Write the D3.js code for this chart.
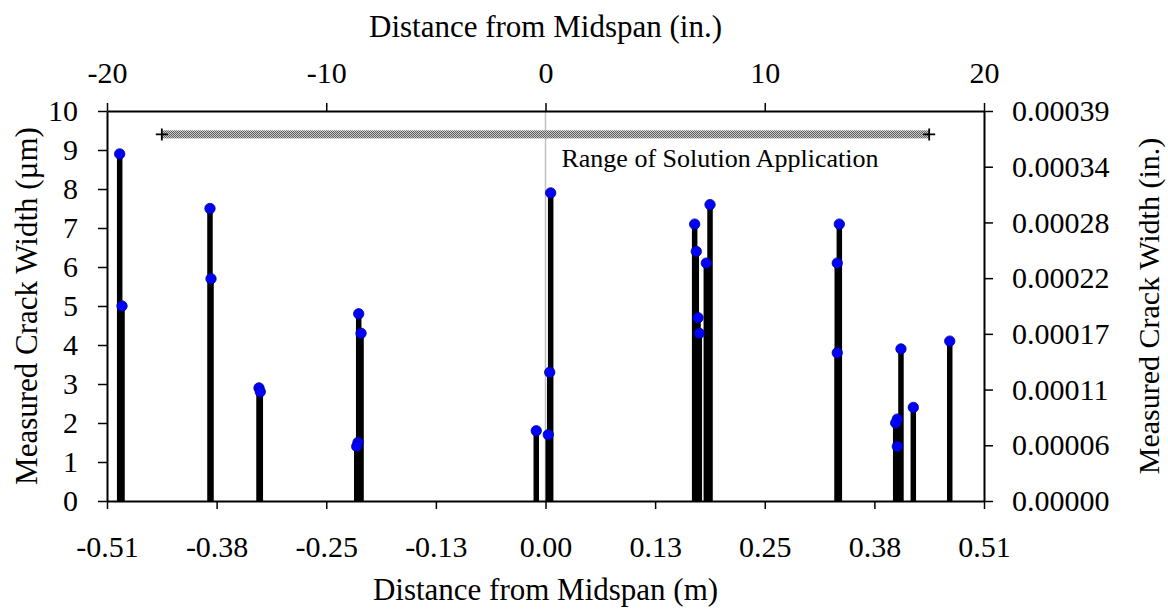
<!DOCTYPE html>
<html>
<head>
<meta charset="utf-8">
<script src="https://cdn.jsdelivr.net/npm/d3@7"></script>
<style>
  html, body { margin: 0; padding: 0; background: #fff; }
  svg text { font-family: "Liberation Serif", "Times New Roman", serif; fill: #000; }
</style>
</head>
<body>
<svg id="chart" width="1168" height="611"></svg>
<script>
// crack locations (m from midspan) and measured widths (um)
const crackX = [-0.4933, -0.4906, -0.3887, -0.3875, -0.3319, -0.3304,
  -0.2164, -0.2137, -0.2172, -0.2187, -0.0107, 0.0060, 0.0049, 0.0032,
  0.1728, 0.1747, 0.1767, 0.1782, 0.1906, 0.1863, 0.3404, 0.3380, 0.3380,
  0.4118, 0.4076, 0.4057, 0.4076, 0.4261, 0.4683];
const crackW = [8.9, 5.0, 7.5, 5.7, 2.9, 2.8,
  4.8, 4.3, 1.5, 1.4, 1.8, 7.9, 3.3, 1.7,
  7.1, 6.4, 4.7, 4.3, 7.6, 6.1, 7.1, 6.1, 3.8,
  3.9, 2.1, 2.0, 1.4, 2.4, 4.1];

// range of solution application (in.) and its height (um)
const rangeIn = [-17.5, 17.5];
const rangeY = 9.4;
const rangeLabel = "Range of Solution Application";

// tick values
const mTicks = [-0.508, -0.381, -0.254, -0.127, 0, 0.127, 0.254, 0.381, 0.508];
const inTicks = [-20, -10, 0, 10, 20];
const umTicks = [0, 1, 2, 3, 4, 5, 6, 7, 8, 9, 10];
const inWTicks = [0, 1, 2, 3, 4, 5, 6, 7].map(k => k * 0.0003937 / 7);

const width = 1168, height = 611;
const pLeft = 107, pRight = 984, pTop = 111, pBottom = 501;

const svg = d3.select("#chart");

const x = d3.scaleLinear().domain([-0.508, 0.508]).range([pLeft, pRight]);
const xIn = d3.scaleLinear().domain([-20, 20]).range([pLeft, pRight]);
const y = d3.scaleLinear().domain([0, 10]).range([pBottom, pTop]);
const yIn = d3.scaleLinear().domain([0, 0.0003937]).range([pBottom, pTop]);

// hatched fill for the range bar
const pat = svg.append("defs").append("pattern")
  .attr("id", "hatch")
  .attr("width", 2).attr("height", 2)
  .attr("patternUnits", "userSpaceOnUse");
pat.append("rect").attr("width", 2).attr("height", 2).attr("fill", "#c8c8c8");
pat.append("rect").attr("width", 1).attr("height", 1).attr("fill", "#606060");
pat.append("rect").attr("x", 1).attr("y", 1).attr("width", 1).attr("height", 1).attr("fill", "#606060");

// vertical line at midspan
svg.append("line")
  .attr("x1", x(0)).attr("x2", x(0))
  .attr("y1", pTop).attr("y2", pBottom)
  .attr("stroke", "#c0c0c0")
  .attr("stroke-width", 1.5);

// axes
function styleAxis(g) {
  g.select(".domain").attr("stroke", "#000").attr("stroke-width", 2);
  g.selectAll(".tick line").attr("stroke", "#000").attr("stroke-width", 1.5);
  g.selectAll(".tick text").attr("font-size", "30px").attr("font-family", null);
}

svg.append("g")
  .attr("transform", `translate(0,${pBottom})`)
  .call(d3.axisBottom(x).tickValues(mTicks).tickFormat(d => d.toFixed(2)).tickSize(8).tickPadding(27).tickSizeOuter(0))
  .call(styleAxis);

svg.append("g")
  .attr("transform", `translate(0,${pTop})`)
  .call(d3.axisTop(xIn).tickValues(inTicks).tickFormat(d => String(d)).tickSize(8).tickPadding(20).tickSizeOuter(0))
  .call(styleAxis);

svg.append("g")
  .attr("transform", `translate(${pLeft},0)`)
  .call(d3.axisLeft(y).tickValues(umTicks).tickFormat(d => String(d)).tickSize(9).tickPadding(20).tickSizeOuter(0))
  .call(styleAxis);

svg.append("g")
  .attr("transform", `translate(${pRight},0)`)
  .call(d3.axisRight(yIn).tickValues(inWTicks).tickFormat(d => d.toFixed(5)).tickSize(9).tickPadding(19).tickSizeOuter(0))
  .call(styleAxis);

// range bar with + end markers
svg.append("rect")
  .attr("x", xIn(rangeIn[0]))
  .attr("y", y(rangeY) - 4)
  .attr("width", xIn(rangeIn[1]) - xIn(rangeIn[0]))
  .attr("height", 8)
  .attr("fill", "url(#hatch)");

svg.selectAll(".endmark")
  .data(rangeIn)
  .join("path")
  .attr("class", "endmark")
  .attr("d", d => `M${xIn(d) - 6},${y(rangeY)}h12M${xIn(d)},${y(rangeY) - 6}v12`)
  .attr("stroke", "#000")
  .attr("stroke-width", 1.8);

svg.append("text")
  .attr("x", x(0.0185))
  .attr("y", 167)
  .attr("font-size", "26px")
  .text(rangeLabel);

// drop lines and measured points
const pts = crackX.map((d, i) => ({ x: d, w: crackW[i] }));

svg.selectAll(".drop")
  .data(pts)
  .join("line")
  .attr("class", "drop")
  .attr("x1", d => x(d.x)).attr("x2", d => x(d.x))
  .attr("y1", y(0)).attr("y2", d => y(d.w))
  .attr("stroke", "#000")
  .attr("stroke-width", 5.5);

svg.selectAll(".pt")
  .data(pts)
  .join("circle")
  .attr("class", "pt")
  .attr("cx", d => x(d.x))
  .attr("cy", d => y(d.w))
  .attr("r", 5.2)
  .attr("fill", "#0000ff")
  .attr("stroke", "#000080")
  .attr("stroke-width", 0.8);

// axis titles
svg.append("text")
  .attr("x", (pLeft + pRight) / 2)
  .attr("y", 600)
  .attr("text-anchor", "middle")
  .attr("font-size", "31px")
  .text("Distance from Midspan (m)");

svg.append("text")
  .attr("x", (pLeft + pRight) / 2)
  .attr("y", 37)
  .attr("text-anchor", "middle")
  .attr("font-size", "31px")
  .text("Distance from Midspan (in.)");

svg.append("text")
  .attr("transform", `translate(37,${(pTop + pBottom) / 2}) rotate(-90)`)
  .attr("text-anchor", "middle")
  .attr("font-size", "31px")
  .text("Measured Crack Width (µm)");

svg.append("text")
  .attr("transform", `translate(1159,${(pTop + pBottom) / 2}) rotate(-90)`)
  .attr("text-anchor", "middle")
  .attr("font-size", "30px")
  .text("Measured Crack Width (in.)");
</script>
</body>
</html>
